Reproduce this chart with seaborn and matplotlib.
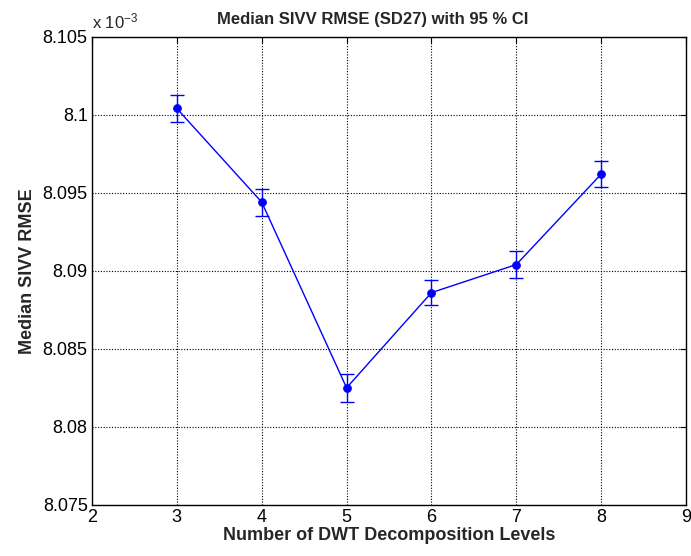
import numpy as np
import pandas as pd
import matplotlib
matplotlib.use("Agg")
import matplotlib.pyplot as plt
from matplotlib.ticker import FuncFormatter
import seaborn as sns

# Median SIVV RMSE per number of DWT decomposition levels, with 95 % CI half-widths
levels = [3, 4, 5, 6, 7, 8]
median_rmse = [8.1004e-3, 8.0944e-3, 8.0825e-3, 8.0886e-3, 8.0904e-3, 8.0962e-3]
ci_half = [0.87e-6, 0.86e-6, 0.90e-6, 0.82e-6, 0.89e-6, 0.86e-6]

x_ticks = [2, 3, 4, 5, 6, 7, 8, 9]
y_ticks = [8.075e-3, 8.080e-3, 8.085e-3, 8.090e-3, 8.095e-3, 8.100e-3, 8.105e-3]

df = pd.DataFrame({"levels": levels, "rmse": median_rmse, "ci": ci_half})

sns.set_style("white")
plt.rcParams["font.family"] = ["Liberation Sans", "DejaVu Sans"]
plt.rcParams["mathtext.default"] = "regular"

fig = plt.figure(figsize=(6.91, 5.56), dpi=100)
ax = fig.add_axes([0.133, 0.092, 0.860, 0.842])

blue = (0, 0, 1)
ax.errorbar(df["levels"], df["rmse"], yerr=df["ci"], fmt="none",
            ecolor=blue, elinewidth=1.0, capsize=5, capthick=1.0, zorder=3)
sns.lineplot(data=df, x="levels", y="rmse", ax=ax, color=blue, linewidth=1.0,
             marker="o", markersize=5.5, markeredgecolor=blue,
             markerfacecolor=blue, zorder=4)

ax.set_xlim(2, 9)
ax.set_ylim(8.075e-3, 8.105e-3)
ax.set_xticks(x_ticks)
ax.set_yticks(y_ticks)
ax.xaxis.set_major_formatter(FuncFormatter(lambda v, p: f"{v:g}"))
ax.yaxis.set_major_formatter(FuncFormatter(lambda v, p: f"{v * 1e3:g}"))

ax.grid(True, color="black", linestyle=(0, (1, 1.5)), linewidth=0.8)
for s in ax.spines.values():
    s.set_color("black")
    s.set_linewidth(1.0)
ax.tick_params(axis="both", direction="in", length=4, width=0.8,
               top=True, right=True, labelsize=13, colors="black", pad=3)

ax.set_title("Median SIVV RMSE (SD27) with 95 % CI", fontsize=12,
             fontweight="bold", pad=9, x=0.472)
ax.set_xlabel("Number of DWT Decomposition Levels", fontsize=13,
              fontweight="bold", labelpad=1)
ax.set_ylabel("Median SIVV RMSE", fontsize=13, fontweight="bold", labelpad=5)
ax.text(0.0, 1.012, r"x 10$^{-3}$", transform=ax.transAxes, fontsize=12,
        ha="left", va="bottom")

fig.savefig("out.png", dpi=100, facecolor="white")
